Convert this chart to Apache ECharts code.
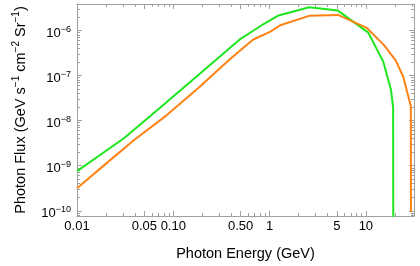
<!DOCTYPE html>
<html><head><meta charset="utf-8">
<script src="https://cdn.jsdelivr.net/npm/echarts@6/dist/echarts.min.js"></script>
<style>html,body{margin:0;padding:0;background:#fff}#c{width:420px;height:266px}</style>
</head><body><div id="c"></div>
<script>
// Data
const greenEnergy = [0.01, 0.0305, 0.0724, 0.182, 0.49, 0.671, 0.85, 1.24, 2.57, 5.13, 10.6, 15.2, 18.2, 19.2, 19.3];
const greenFlux   = [7.6e-10, 4.0e-9, 1.9e-8, 1.03e-7, 6.3e-7, 9.7e-7, 1.35e-6, 2.14e-6, 3.26e-6, 2.75e-6, 8.9e-7, 2.0e-7, 4.9e-8, 1.95e-8, 1e-12];
const orangeEnergy = [0.01, 0.0196, 0.0392, 0.0845, 0.182, 0.392, 0.671, 1.02, 1.29, 2.57, 5.13, 10.2, 15.6, 20.4, 24.4, 29.3, 29.4];
const orangeFlux   = [3.16e-10, 1.07e-9, 3.7e-9, 1.29e-8, 5.3e-8, 2.35e-7, 6.2e-7, 9.4e-7, 1.3e-6, 2.1e-6, 2.2e-6, 1.14e-6, 4.6e-7, 2.16e-7, 9.5e-8, 2.1e-8, 9.4e-11];

const xTickValues = [0.01, 0.05, 0.1, 0.5, 1, 5, 10];
const xTickLabels = ['0.01', '0.05', '0.10', '0.50', '1', '5', '10'];
const yTickValues = [1e-10, 1e-9, 1e-8, 1e-7, 1e-6];
const yTickLabels = ['−10', '−9', '−8', '−7', '−6'];

const xMin = 0.01, xMax = Math.pow(10, 1.5);
const yMin = Math.pow(10, -10.115), yMax = Math.pow(10, -5.415);

function allTicks(lo, hi) {
  const out = [];
  for (let e = -12; e <= 3; e++) {
    for (let m = 1; m <= 9; m++) {
      const v = m * Math.pow(10, e);
      if (v >= lo * 0.999 && v <= hi * 1.001) out.push(v);
    }
  }
  return out;
}
function nearestIdx(arr, v) {
  let best = 0, bd = Infinity;
  arr.forEach((a, i) => { const d = Math.abs(Math.log10(a) - Math.log10(v)); if (d < bd) { bd = d; best = i; } });
  return bd < 0.01 ? best : -1;
}
const xMinor = allTicks(xMin, xMax).filter(v => nearestIdx(xTickValues, v) < 0);
const yMinor = allTicks(yMin, yMax).filter(v => nearestIdx(yTickValues, v) < 0);

const frame = '#a0a0a0';
const font = 'Liberation Sans, Arial, sans-serif';

function xAx(pos, ticks, len, labels, line) {
  return {
    type: 'log', logBase: 10, min: xMin, max: xMax, position: pos,
    axisLine: { show: line, onZero: false, lineStyle: { color: frame, width: 1 } },
    axisTick: { show: true, inside: true, length: len, customValues: ticks, lineStyle: { color: frame } },
    minorTick: { show: false }, splitLine: { show: false },
    axisLabel: labels ? {
      show: true, customValues: xTickValues, margin: 4, color: '#000', fontSize: 13, fontFamily: font,
      formatter: v => { const i = nearestIdx(xTickValues, v); return i >= 0 ? xTickLabels[i] : ''; }
    } : { show: false },
    name: labels ? 'Photon Energy (GeV)' : '', nameLocation: 'middle', nameGap: 30,
    nameTextStyle: { color: '#000', fontSize: 14.5, fontFamily: font }
  };
}
function yAx(pos, ticks, len, labels, line) {
  return {
    type: 'log', logBase: 10, min: yMin, max: yMax, position: pos,
    axisLine: { show: line, onZero: false, lineStyle: { color: frame, width: 1 } },
    axisTick: { show: true, inside: true, length: len, customValues: ticks, lineStyle: { color: frame } },
    minorTick: { show: false }, splitLine: { show: false },
    axisLabel: labels ? {
      show: true, customValues: yTickValues, margin: 6, fontFamily: font,
      formatter: v => { const i = nearestIdx(yTickValues, v); return i >= 0 ? '{b|10}{s|' + yTickLabels[i] + '}' : ''; },
      rich: {
        b: { fontSize: 13, color: '#000', fontFamily: font, lineHeight: 16, padding: [6, 0, 0, 0] },
        s: { fontSize: 9, color: '#000', fontFamily: font, lineHeight: 16, padding: [0, 0, 2, 0] }
      }
    } : { show: false },
    name: labels ? '{t|Photon Flux (GeV s}{s|−1}{t| cm}{s|−2}{t| Sr}{s|−1}{t|)}' : '',
    nameLocation: 'middle', nameGap: 50, nameRotate: 90,
    nameTextStyle: {
      rich: {
        t: { fontSize: 14.5, color: '#000', fontFamily: font, lineHeight: 18, padding: [5, 0, 0, 0] },
        s: { fontSize: 10, color: '#000', fontFamily: font, lineHeight: 18, padding: [0, 0, 3, 0] }
      }
    }
  };
}

const chart = echarts.init(document.getElementById('c'), null, { renderer: 'canvas' });
chart.setOption({
  animation: false,
  backgroundColor: '#fff',
  grid: { left: 64, right: 6, top: 4, bottom: 45, containLabel: false },
  xAxis: [
    xAx('bottom', xTickValues, 5, true, true),
    xAx('bottom', xMinor, 3, false, false),
    xAx('top', xTickValues, 5, false, true),
    xAx('top', xMinor, 3, false, false)
  ],
  yAxis: [
    yAx('left', yTickValues, 5, true, true),
    yAx('left', yMinor, 3, false, false),
    yAx('right', yTickValues, 5, false, true),
    yAx('right', yMinor, 3, false, false)
  ],
  series: [
    { type: 'line', name: 'green', xAxisIndex: 0, yAxisIndex: 0, symbol: 'none', clip: true,
      lineStyle: { color: '#1ee61e', width: 2 },
      data: greenEnergy.map((x, i) => [x, greenFlux[i]]) },
    { type: 'line', name: 'orange', xAxisIndex: 0, yAxisIndex: 0, symbol: 'none', clip: true,
      lineStyle: { color: '#ff8214', width: 2 },
      data: orangeEnergy.map((x, i) => [x, orangeFlux[i]]) }
  ]
});
</script></body></html>
